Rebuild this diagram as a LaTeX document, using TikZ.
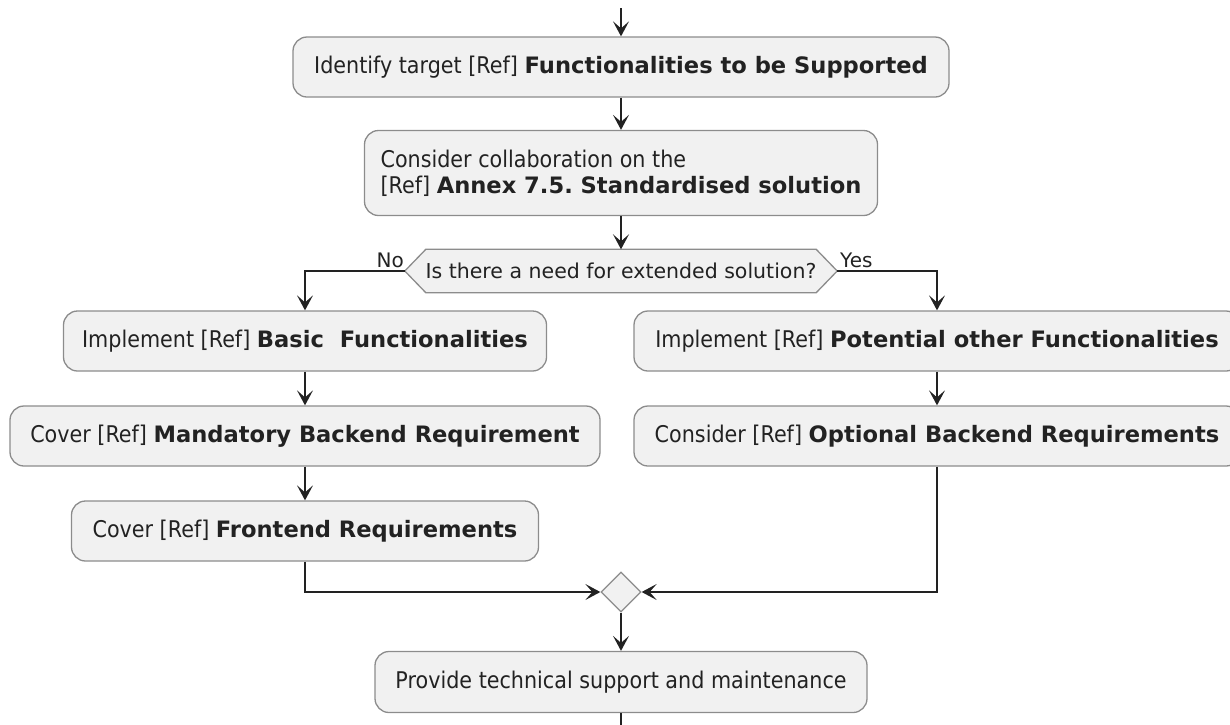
\documentclass[tikz,border=0pt]{standalone}
\usepackage{fontspec}
\setmainfont{DejaVu Sans}[FakeStretch=0.9]
\newfontfamily\widefont{DejaVu Sans}
\newcommand{\ib}[1]{{\widefont\bfseries\fontsize{22.6}{26}\selectfont #1}}
\usetikzlibrary{arrows.meta,shapes.geometric}
\definecolor{boxfill}{HTML}{F1F1F1}
\definecolor{boxline}{HTML}{8C8C8C}
\definecolor{ink}{HTML}{222222}
\frenchspacing
\begin{document}
\begin{tikzpicture}[x=1pt,y=-1pt,
  every node/.style={font=\fontsize{23}{26}\selectfont, text=ink},
  actbox/.style={draw=boxline, fill=boxfill, line width=1.3pt, rounded corners=14pt,
    minimum height=60pt, inner sep=0pt},
  flow/.style={draw=ink, line width=1.4pt,
    -{Stealth[length=15pt,width=16pt,inset=7pt]}},
  plainline/.style={draw=ink, line width=1.4pt},
  guard/.style={font=\widefont\fontsize{20}{22}\selectfont, inner sep=1pt}]
\useasboundingbox (0,0) rectangle (1230,724);

% activities
\node[actbox, minimum width=656pt] (ident) at (621,67)
  {Identify target [Ref] \ib{Functionalities to be Supported}};
\node[actbox, minimum width=513pt, minimum height=85pt, align=left]
  (collab) at (621,173)
  {Consider collaboration on the\\{}[Ref] \ib{Annex 7.5. Standardised solution}};

% decision
\node[minimum width=432pt, minimum height=43pt, inner sep=0pt,
  font=\widefont\fontsize{20.5}{23}\selectfont] (need) at (621,271) {};
\draw[boxline, fill=boxfill, line width=1.3pt]
  (need.west) -- ([xshift=21pt]need.north west) -- ([xshift=-21pt]need.north east)
  -- (need.east) -- ([xshift=-21pt]need.south east) -- ([xshift=21pt]need.south west)
  -- cycle;
\node[inner sep=0pt, font=\widefont\fontsize{20.5}{23}\selectfont]
  (needtext) at (need) {Is there a need for extended solution?};
\node[guard, anchor=south east] (no) at (405,269) {No};
\node[guard, anchor=south west] (yes) at (839,269) {Yes};

% left branch
\node[actbox, minimum width=483pt] (basic) at (305,341)
  {Implement [Ref] \ib{Basic~~Functionalities}};
\node[actbox, minimum width=590pt] (mand) at (305,436)
  {Cover [Ref] \ib{Mandatory Backend Requirement}};
\node[actbox, minimum width=467pt] (front) at (305,531)
  {Cover [Ref] \ib{Frontend Requirements}};

% right branch
\node[actbox, minimum width=606pt] (other) at (937,341)
  {Implement [Ref] \ib{Potential other Functionalities}};
\node[actbox, minimum width=606pt] (opt) at (937,436)
  {Consider [Ref] \ib{Optional Backend Requirements}};

% merge and final activity
\node[diamond, draw=boxline, fill=boxfill, line width=1.3pt, inner sep=0pt,
  minimum width=40pt, minimum height=40pt] (merge) at (621,592) {};
\node[actbox, minimum width=492pt, minimum height=61pt] (support) at (621,682)
  {Provide technical support and maintenance};

\coordinate (start) at (621,8);
\coordinate (finish) at (621,730);

% connectors
\draw[flow] (start) -- (ident.north);
\draw[flow] (ident.south) -- (collab.north);
\draw[flow] (collab.south) -- (need.north);
\draw[flow] (need.west) -| (basic.north);
\draw[flow] (need.east) -| (other.north);
\draw[flow] (basic.south) -- (mand.north);
\draw[flow] (mand.south) -- (front.north);
\draw[flow] (other.south) -- (opt.north);
\draw[flow] (front.south) |- (merge.west);
\draw[flow] (opt.south) |- (merge.east);
\draw[flow] (merge.south) -- (support.north);
\draw[plainline] (support.south) -- (finish);
\end{tikzpicture}
\end{document}
